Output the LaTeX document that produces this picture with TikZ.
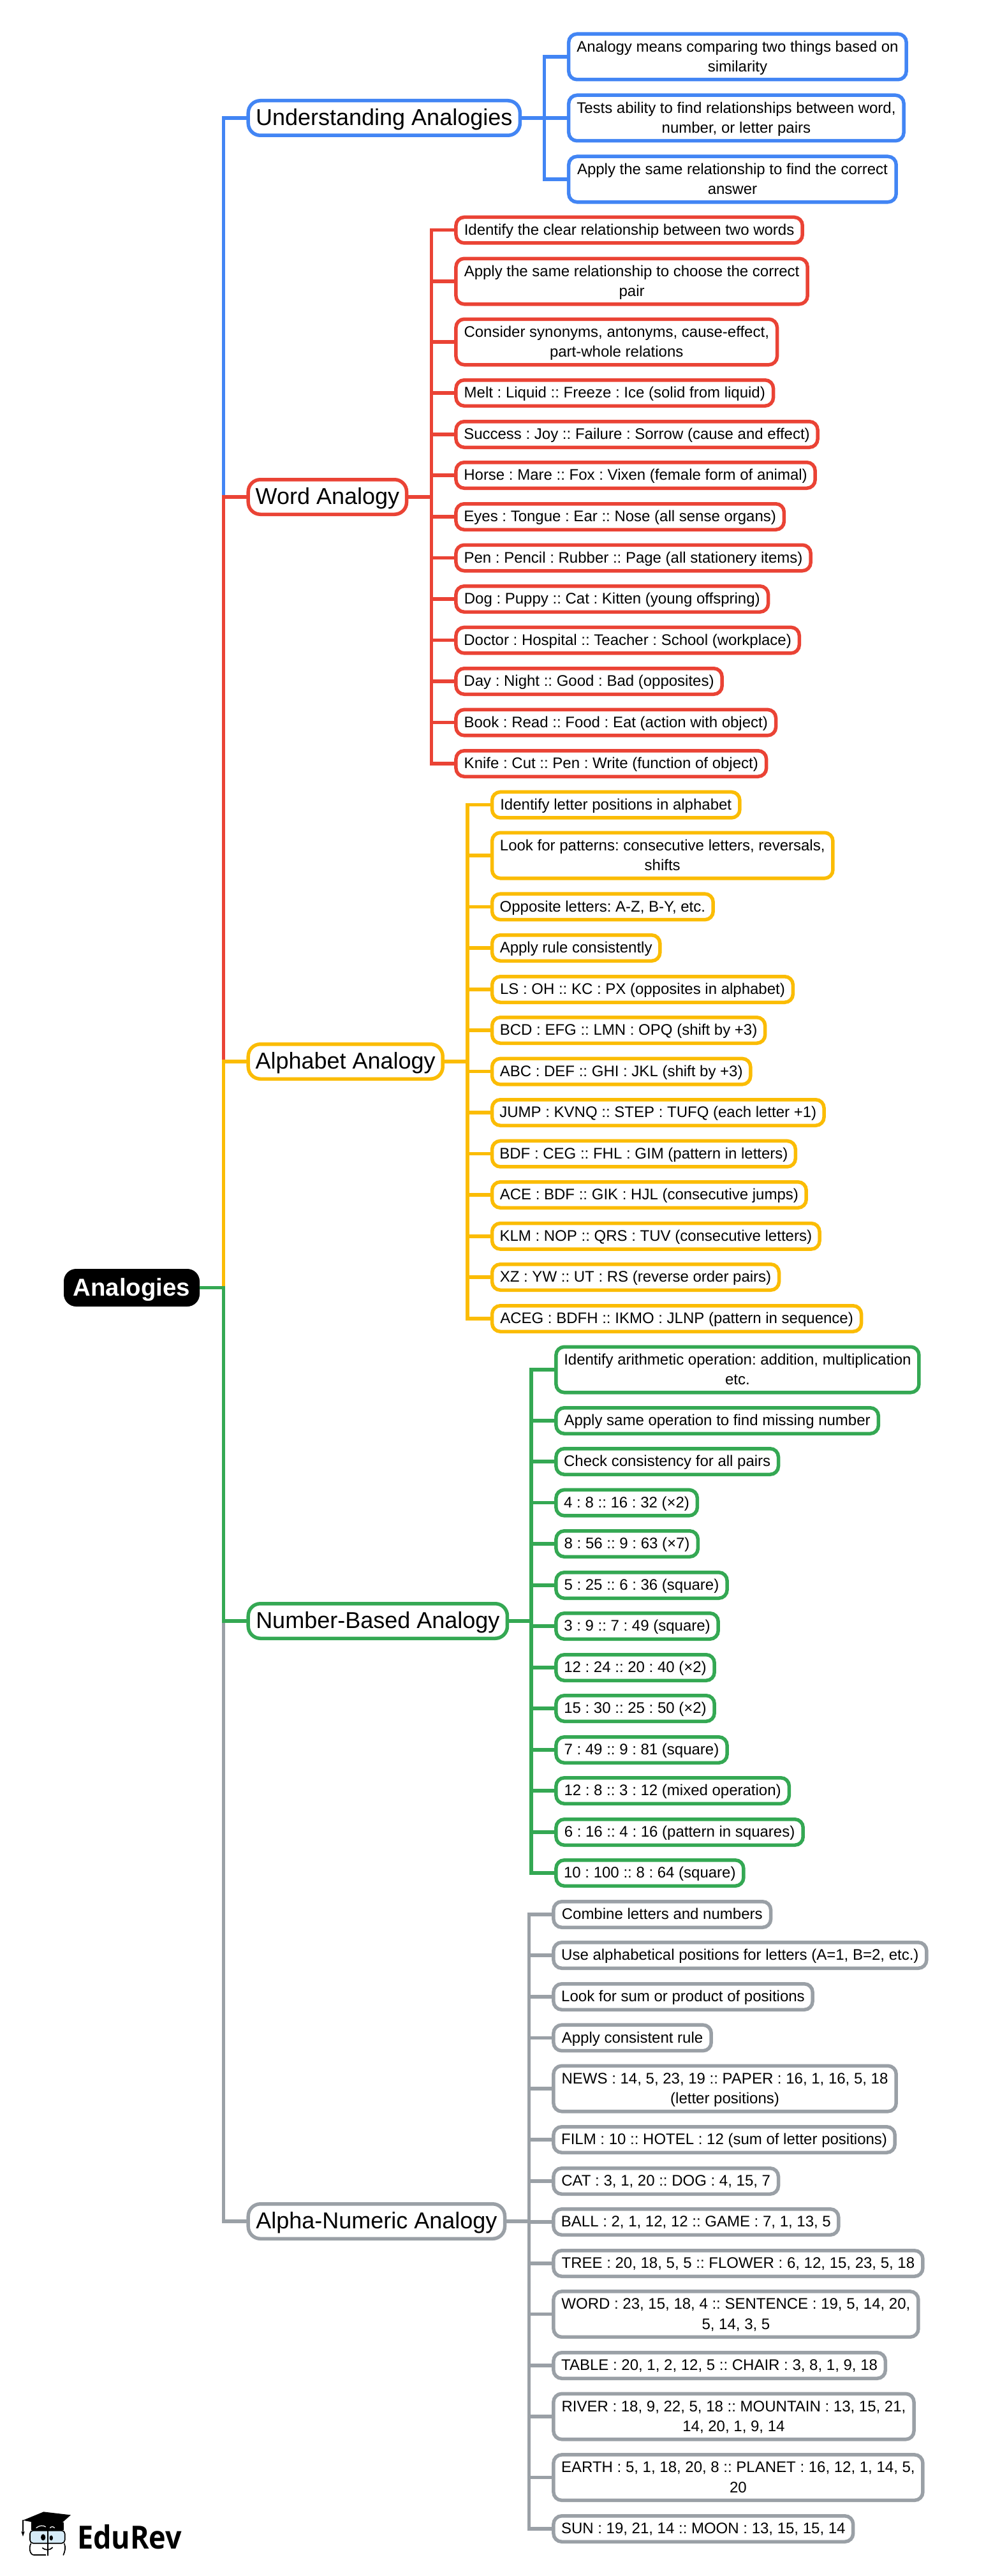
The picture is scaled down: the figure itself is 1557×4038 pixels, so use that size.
\documentclass[tikz,border=0pt]{standalone}
\usepackage{fontspec}
\usepackage{graphicx}
\setmainfont{Liberation Sans}
\newfontfamily\logofont{Open Sans}
\frenchspacing
\definecolor{cblue}{HTML}{4285F4}
\definecolor{cred}{HTML}{EA4335}
\definecolor{cyel}{HTML}{FBBC04}
\definecolor{cgrn}{HTML}{34A853}
\definecolor{cgry}{HTML}{9AA0A6}
\definecolor{glass}{HTML}{D6EBF7}
\tikzset{
  box/.style={draw,fill=white,line width=5.5pt,rounded corners=13pt,inner sep=0pt,outer sep=0pt,
    align=center,text=black,font=\fontsize{24}{31.5}\selectfont,minimum height=40.5pt},
  two/.style={minimum height=71.5pt},
  topic/.style={box,rounded corners=19pt,font=\fontsize{36}{40}\selectfont,minimum height=54.5pt},
  rootbox/.style={draw=black,fill=black,line width=1pt,rounded corners=19pt,inner sep=0pt,outer sep=0pt,
    align=center,text=white,font=\fontsize{38.4}{42}\selectfont\bfseries,minimum height=58pt},
  conn/.style={line width=5.5pt},
  lg/.style={line width=1.7pt,draw=black,line cap=round,line join=round}
}
\newcommand{\topstrut}{\rule{0pt}{1em}}
\newcommand{\botstrut}{\rule[-.35em]{0pt}{.35em}}
\newcommand{\NB}[6]{\pgfmathsetmacro\mywd{(#4-#3)/1.007-1.9}\pgfmathsetmacro\mycx{(#3+#4)/2/1.007}\node[#1,minimum width=\mywd pt] (#2) at (\mycx,#5) {\topstrut#6\botstrut};}
\begin{document}
\begin{tikzpicture}[x=1pt,y=-1pt]
\useasboundingbox (0,0) rectangle (1557,4038);
\fill[white] (0,0) rectangle (1557,4038);
% root
\node[rootbox,minimum width=212pt] (root) at (206.5,2018.5) {\topstrut Analogies\botstrut};
% topics
\NB{topic,draw=cblue}{und}{391}{822}{185}{Understanding Analogies}
\NB{topic,draw=cred}{wrd}{391}{643}{779}{Word Analogy}
\NB{topic,draw=cyel}{alp}{391}{700}{1664}{Alphabet Analogy}
\NB{topic,draw=cgrn}{num}{391}{802}{2541}{Number-Based Analogy}
\NB{topic,draw=cgry}{anu}{391}{798}{3482}{Alpha-Numeric Analogy}
% understanding
\NB{box,two,draw=cblue}{u1}{897}{1432}{89}{Analogy means comparing two things based on\\similarity}
\NB{box,two,draw=cblue}{u2}{897}{1428}{185}{Tests ability to find relationships between word,\\number, or letter pairs}
\NB{box,two,draw=cblue}{u3}{897}{1416}{281}{Apply the same relationship to find the correct\\answer}
% word
\NB{box,draw=cred}{w1}{719}{1268}{360.7}{Identify the clear relationship between two words}
\NB{box,two,draw=cred}{w2}{719}{1276}{441}{Apply the same relationship to choose the correct\\pair}
\NB{box,two,draw=cred}{w3}{719}{1228}{536}{Consider synonyms, antonyms, cause-effect,\\part-whole relations}
\NB{box,draw=cred}{w4}{719}{1222}{616}{Melt : Liquid :: Freeze : Ice (solid from liquid)}
\NB{box,draw=cred}{w5}{719}{1292}{681}{Success : Joy :: Failure : Sorrow (cause and effect)}
\NB{box,draw=cred}{w6}{719}{1288}{745}{Horse : Mare :: Fox : Vixen (female form of animal)}
\NB{box,draw=cred}{w7}{719}{1239}{810}{Eyes : Tongue : Ear :: Nose (all sense organs)}
\NB{box,draw=cred}{w8}{719}{1281}{874.5}{Pen : Pencil : Rubber :: Page (all stationery items)}
\NB{box,draw=cred}{w9}{719}{1214}{939}{Dog : Puppy :: Cat : Kitten (young offspring)}
\NB{box,draw=cred}{w10}{719}{1263}{1003.6}{Doctor : Hospital :: Teacher : School (workplace)}
\NB{box,draw=cred}{w11}{719}{1141}{1068}{Day : Night :: Good : Bad (opposites)}
\NB{box,draw=cred}{w12}{719}{1226}{1132.6}{Book : Read :: Food : Eat (action with object)}
\NB{box,draw=cred}{w13}{719}{1211}{1197}{Knife : Cut :: Pen : Write (function of object)}
% alphabet
\NB{box,draw=cyel}{a1}{776}{1169}{1261.7}{Identify letter positions in alphabet}
\NB{box,two,draw=cyel}{a2}{776}{1316}{1341}{Look for patterns: consecutive letters, reversals,\\shifts}
\NB{box,draw=cyel}{a3}{776}{1127}{1421.4}{Opposite letters: A-Z, B-Y, etc.}
\NB{box,draw=cyel}{a4}{776}{1043}{1486}{Apply rule consistently}
\NB{box,draw=cyel}{a5}{776}{1253}{1551}{LS : OH :: KC : PX (opposites in alphabet)}
\NB{box,draw=cyel}{a6}{776}{1209}{1615}{BCD : EFG :: LMN : OPQ (shift by +3)}
\NB{box,draw=cyel}{a7}{776}{1186}{1679.6}{ABC : DEF :: GHI : JKL (shift by +3)}
\NB{box,draw=cyel}{a8}{776}{1302}{1744}{JUMP : KVNQ :: STEP : TUFQ (each letter +1)}
\NB{box,draw=cyel}{a9}{776}{1257}{1808.7}{BDF : CEG :: FHL : GIM (pattern in letters)}
\NB{box,draw=cyel}{a10}{776}{1274}{1873}{ACE : BDF :: GIK : HJL (consecutive jumps)}
\NB{box,draw=cyel}{a11}{776}{1295}{1937.8}{KLM : NOP :: QRS : TUV (consecutive letters)}
\NB{box,draw=cyel}{a12}{776}{1231}{2002}{XZ : YW :: UT : RS (reverse order pairs)}
\NB{box,draw=cyel}{a13}{776}{1361}{2067}{ACEG : BDFH :: IKMO : JLNP (pattern in sequence)}
% number
\NB{box,two,draw=cgrn}{n1}{877}{1452}{2147}{Identify arithmetic operation: addition, multiplication\\etc.}
\NB{box,draw=cgrn}{n2}{877}{1388}{2227}{Apply same operation to find missing number}
\NB{box,draw=cgrn}{n3}{877}{1230}{2291}{Check consistency for all pairs}
\NB{box,draw=cgrn}{n4}{877}{1102}{2355.6}{4 : 8 :: 16 : 32 (×2)}
\NB{box,draw=cgrn}{n5}{877}{1103}{2420}{8 : 56 :: 9 : 63 (×7)}
\NB{box,draw=cgrn}{n6}{877}{1149}{2485}{5 : 25 :: 6 : 36 (square)}
\NB{box,draw=cgrn}{n7}{877}{1135}{2549}{3 : 9 :: 7 : 49 (square)}
\NB{box,draw=cgrn}{n8}{877}{1129}{2614}{12 : 24 :: 20 : 40 (×2)}
\NB{box,draw=cgrn}{n9}{877}{1129}{2678}{15 : 30 :: 25 : 50 (×2)}
\NB{box,draw=cgrn}{n10}{877}{1149}{2743}{7 : 49 :: 9 : 81 (square)}
\NB{box,draw=cgrn}{n11}{877}{1247}{2807}{12 : 8 :: 3 : 12 (mixed operation)}
\NB{box,draw=cgrn}{n12}{877}{1269}{2872}{6 : 16 :: 4 : 16 (pattern in squares)}
\NB{box,draw=cgrn}{n13}{877}{1175}{2936}{10 : 100 :: 8 : 64 (square)}
% alpha-numeric
\NB{box,draw=cgry}{g1}{873}{1218}{3001}{Combine letters and numbers}
\NB{box,draw=cgry}{g2}{873}{1464}{3065}{Use alphabetical positions for letters (A=1, B=2, etc.)}
\NB{box,draw=cgry}{g3}{873}{1284}{3130}{Look for sum or product of positions}
\NB{box,draw=cgry}{g4}{873}{1124}{3194.4}{Apply consistent rule}
\NB{box,two,draw=cgry}{g5}{873}{1416}{3274}{NEWS : 14, 5, 23, 19 :: PAPER : 16, 1, 16, 5, 18\\(letter positions)}
\NB{box,draw=cgry}{g6}{873}{1414}{3354}{FILM : 10 :: HOTEL : 12 (sum of letter positions)}
\NB{box,draw=cgry}{g7}{873}{1230}{3419}{CAT : 3, 1, 20 :: DOG : 4, 15, 7}
\NB{box,draw=cgry}{g8}{873}{1325}{3483}{BALL : 2, 1, 12, 12 :: GAME : 7, 1, 13, 5}
\NB{box,draw=cgry}{g9}{873}{1458}{3548}{TREE : 20, 18, 5, 5 :: FLOWER : 6, 12, 15, 23, 5, 18}
\NB{box,two,draw=cgry}{g10}{873}{1451}{3627.6}{WORD : 23, 15, 18, 4 :: SENTENCE : 19, 5, 14, 20,\\5, 14, 3, 5}
\NB{box,draw=cgry}{g11}{873}{1399}{3708}{TABLE : 20, 1, 2, 12, 5 :: CHAIR : 3, 8, 1, 9, 18}
\NB{box,two,draw=cgry}{g12}{873}{1444}{3788}{RIVER : 18, 9, 22, 5, 18 :: MOUNTAIN : 13, 15, 21,\\14, 20, 1, 9, 14}
\NB{box,two,draw=cgry}{g13}{873}{1458}{3883.6}{EARTH : 5, 1, 18, 20, 8 :: PLANET : 16, 12, 1, 14, 5,\\20}
\NB{box,draw=cgry}{g14}{873}{1348}{3964}{SUN : 19, 21, 14 :: MOON : 13, 15, 15, 14}
% spines
\coordinate (sm) at (350.5,2018.5);
\coordinate (su) at (853.5,185);
\coordinate (sw) at (676.5,779);
\coordinate (sa) at (733,1664);
\coordinate (sn) at (833,2541);
\coordinate (sg) at (829.5,3482);
% connectors root -> topics
\draw[conn,cgry] (root.east) -- (sm) |- (anu.west);
\draw[conn,cblue] (root.east) -- (sm) |- (und.west);
\draw[conn,cred] (root.east) -- (sm) |- (wrd.west);
\draw[conn,cyel] (root.east) -- (sm) |- (alp.west);
\draw[conn,cgrn] (root.east) -- (sm) |- (num.west);
% connectors topic -> leaves
\foreach \n in {u1,u2,u3} \draw[conn,cblue] (und.east) -- (su) |- (\n.west);
\foreach \n in {w1,w2,w3,w4,w5,w6,w7,w8,w9,w10,w11,w12,w13} \draw[conn,cred] (wrd.east) -- (sw) |- (\n.west);
\foreach \n in {a1,a2,a3,a4,a5,a6,a7,a8,a9,a10,a11,a12,a13} \draw[conn,cyel] (alp.east) -- (sa) |- (\n.west);
\foreach \n in {n1,n2,n3,n4,n5,n6,n7,n8,n9,n10,n11,n12,n13} \draw[conn,cgrn] (num.east) -- (sn) |- (\n.west);
\foreach \n in {g1,g2,g3,g4,g5,g6,g7,g8,g9,g10,g11,g12,g13,g14} \draw[conn,cgry] (anu.east) -- (sg) |- (\n.west);
% logo (coordinates: x=px/3, y=3910+py/3 from the crop)
\begin{scope}[shift={(0,3910)},x=0.3333pt,y=-0.3333pt]
  \fill (147,128) -- (147,168) -- (300,168) -- (300,132) -- cycle;
  \fill (108,122) -- (205,82) -- (333,97) -- (270,153) -- cycle;
  \draw[lg] (108,122) -- (108,172);
  \fill (100,175) -- (116,175) -- (108,198) -- cycle;
  \draw[white,line width=1.2pt] (170,158) .. controls (185,145) and (205,145) .. (215,153);
  \draw[white,line width=1.2pt] (235,158) .. controls (242,150) and (250,150) .. (257,158);
  \draw[lg,fill=glass,rounded corners=5pt] (141,170) rectangle (305,230);
  \draw[lg] (225,165) -- (225,287);
  \fill (203,202) ellipse [x radius=11,y radius=15];
  \fill (241,205) ellipse [x radius=8,y radius=12];
  \draw[lg] (145,232) .. controls (135,250) and (140,285) .. (160,285) -- (215,285);
  \draw[lg] (303,232) .. controls (310,250) and (305,270) .. (298,285);
  \draw[lg] (200,252) .. controls (210,262) and (235,265) .. (247,250);
\end{scope}
\node[inner sep=0pt,outer sep=0pt,anchor=base west,font=\logofont\fontsize{50}{50}\selectfont\bfseries] (logo) at (121,3995) {\scalebox{.9}[1]{EduRev}};
\end{tikzpicture}
\end{document}
